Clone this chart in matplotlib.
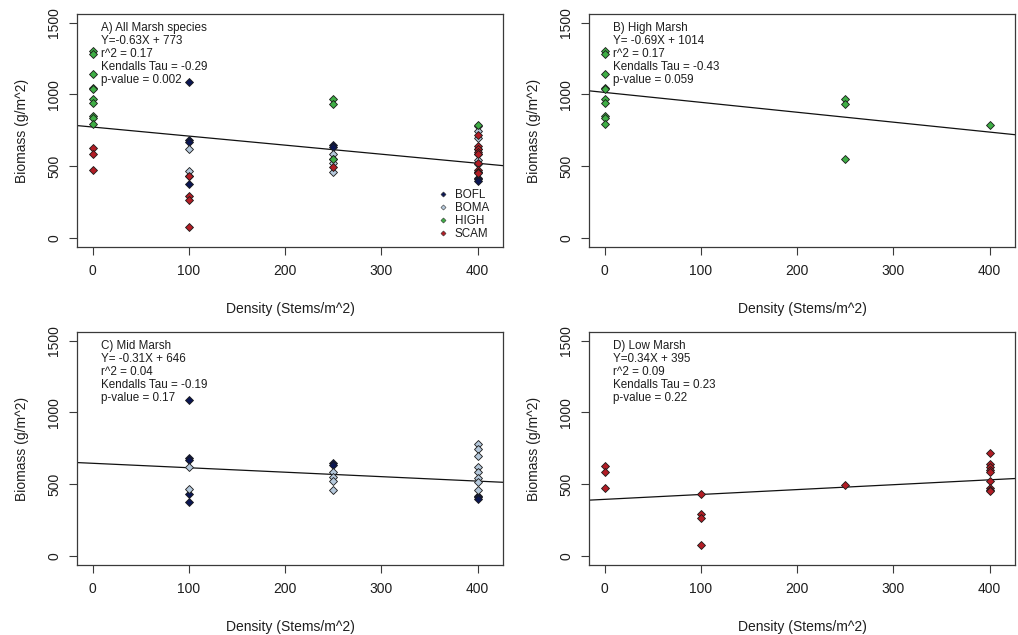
import matplotlib
matplotlib.use("Agg")
import matplotlib.pyplot as plt
from matplotlib.lines import Line2D

plt.rcParams['font.family'] = ['Liberation Sans', 'DejaVu Sans']

# ---- data ----
species = ["BOFL", "BOMA", "HIGH", "SCAM"]
colors = {"BOFL": "#0b1652", "BOMA": "#b6c9dc", "HIGH": "#3fae45", "SCAM": "#b21d25"}

bofl_density = [100, 100, 100, 100, 100, 250, 250, 400, 400, 400]
bofl_biomass = [1090, 680, 670, 430, 375, 648, 632, 420, 410, 400]

boma_density = [100, 100, 250, 250, 250, 250, 400, 400, 400, 400, 400, 400, 400, 400]
boma_biomass = [620, 465, 585, 550, 520, 458, 779, 744, 700, 618, 585, 545, 515, 460]

high_density = [0, 0, 0, 0, 0, 0, 0, 0, 0, 0, 250, 250, 250, 400]
high_biomass = [1305, 1280, 1145, 1045, 1035, 970, 940, 850, 835, 795, 965, 935, 551, 788]

scam_density = [0, 0, 0, 100, 100, 100, 100, 250, 400, 400, 400, 400, 400, 400, 400, 400, 400]
scam_biomass = [630, 588, 476, 429, 294, 264, 77, 497, 718, 640, 620, 600, 588, 525, 475, 460, 450]

series = {
    "BOFL": (bofl_density, bofl_biomass),
    "BOMA": (boma_density, boma_biomass),
    "HIGH": (high_density, high_biomass),
    "SCAM": (scam_density, scam_biomass),
}

panel_titles = ["A) All Marsh species", "B) High Marsh", "C) Mid Marsh", "D) Low Marsh"]
panel_species = [["BOFL", "BOMA", "HIGH", "SCAM"], ["HIGH"], ["BOFL", "BOMA"], ["SCAM"]]
panel_slopes = [-0.63, -0.69, -0.31, 0.34]
panel_intercepts = [773, 1014, 646, 395]
panel_eq = ["Y=-0.63X + 773", "Y= -0.69X + 1014", "Y= -0.31X + 646", "Y=0.34X + 395"]
panel_r2 = ["r^2 = 0.17", "r^2 = 0.17", "r^2 = 0.04", "r^2 = 0.09"]
panel_tau = ["Kendalls Tau = -0.29", "Kendalls Tau = -0.43", "Kendalls Tau = -0.19", "Kendalls Tau = 0.23"]
panel_p = ["p-value = 0.002", "p-value = 0.059", "p-value = 0.17", "p-value = 0.22"]

x_ticks = [0, 100, 200, 300, 400]
y_ticks = [0, 500, 1000, 1500]

# ---- layout ----
W, H = 1018, 635
fig = plt.figure(figsize=(W / 100, H / 100), dpi=100)
fig.patch.set_facecolor("white")

boxes = [(77, 14, 503, 247), (589, 14, 1015, 247), (77, 332, 503, 565), (589, 332, 1015, 565)]
text_col = "#1e1e1e"
axis_col = "#3a3a3a"

for i, (l, t, r, b) in enumerate(boxes):
    ax = fig.add_axes([l / W, 1 - b / H, (r - l) / W, (b - t) / H])
    ax.set_xlim(-16.4, 426.4)
    ax.set_ylim(-62, 1560)
    for sp in species:
        if sp in panel_species[i]:
            xs, ys = series[sp]
            ax.plot(xs, ys, linestyle="none", marker="D", markersize=3.9,
                    markerfacecolor=colors[sp], markeredgecolor="#1a1a1a",
                    markeredgewidth=0.6, zorder=3)
    ax.axline((0, panel_intercepts[i]), slope=panel_slopes[i], color="#111111",
              linewidth=0.9, zorder=2)

    lines = [panel_titles[i], panel_eq[i], panel_r2[i], panel_tau[i], panel_p[i]]
    for k, s in enumerate(lines):
        ax.text(0.0556, 0.939 - k * 0.0558, s, transform=ax.transAxes,
                fontsize=8.4, color=text_col, va="center", ha="left")

    ax.set_xticks(x_ticks)
    ax.set_yticks(y_ticks)
    ax.set_xticklabels([str(v) for v in x_ticks])
    ax.set_yticklabels([str(v) for v in y_ticks], rotation=90, va="center")
    ax.tick_params(axis="both", direction="out", length=5.5, width=0.8,
                   color=axis_col, labelsize=10, labelcolor=text_col)
    ax.tick_params(axis="x", pad=7)
    ax.tick_params(axis="y", pad=6)
    for s in ax.spines.values():
        s.set_color(axis_col)
        s.set_linewidth(0.9)
    ax.set_xlabel("Density (Stems/m^2)", fontsize=10, color=text_col, labelpad=17)
    ax.set_ylabel("Biomass (g/m^2)", fontsize=10, color=text_col, labelpad=13)

    if i == 0:
        handles = [Line2D([], [], linestyle="none", marker="D", markersize=2.6,
                          markerfacecolor=colors[sp], markeredgecolor="#333333",
                          markeredgewidth=0.4, label=sp) for sp in species]
        ax.legend(handles=handles, loc="upper left", bbox_to_anchor=(0.845, 0.25),
                  frameon=False, fontsize=8.4, handlelength=1.0, handletextpad=0.54,
                  labelspacing=0.1, borderpad=0, borderaxespad=0,
                  labelcolor=text_col)

fig.savefig("out.png", dpi=100, facecolor="white")
